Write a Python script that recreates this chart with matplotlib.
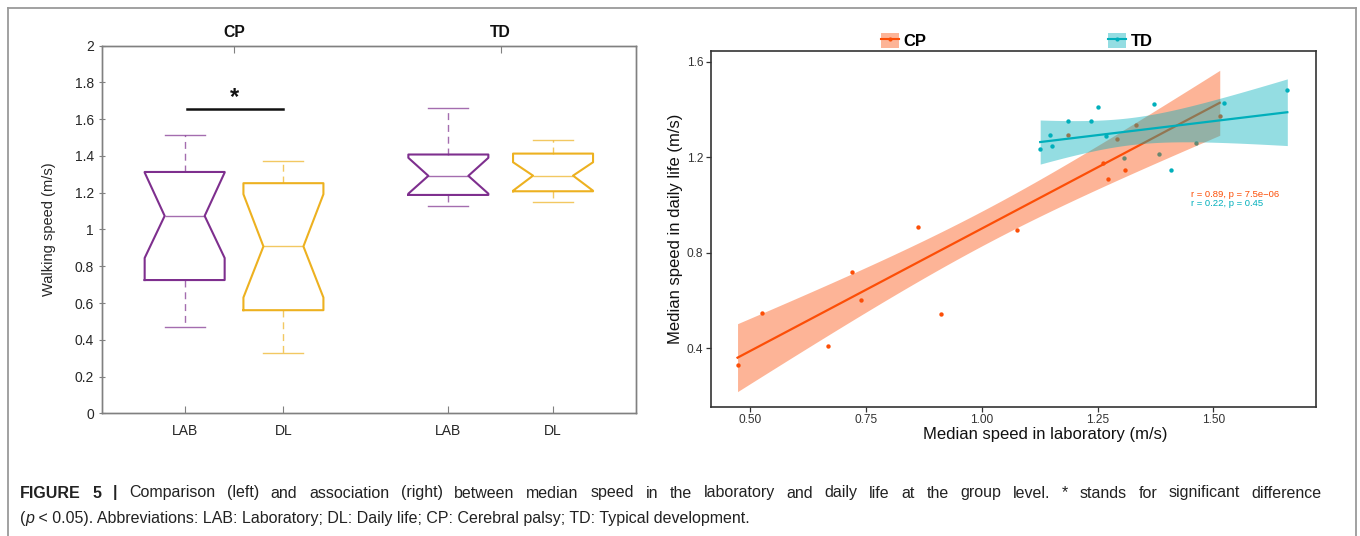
import numpy as np
import matplotlib
matplotlib.use('Agg')
import matplotlib.pyplot as plt
from matplotlib.patches import Patch
from matplotlib.lines import Line2D
from matplotlib.legend_handler import HandlerTuple

plt.rcParams['font.family'] = ['Liberation Sans', 'DejaVu Sans']

# ---------------- Left panel data (box statistics, m/s) ----------------
box_labels = ['LAB', 'DL', 'LAB', 'DL']
group_labels = ['CP', 'TD']
whislo = [0.470, 0.327, 1.126, 1.148]
q1 = [0.725, 0.561, 1.188, 1.208]
cilo = [0.845, 0.630, 1.195, 1.211]
med = [1.074, 0.908, 1.292, 1.293]
cihi = [1.310, 1.192, 1.390, 1.366]
q3 = [1.313, 1.252, 1.408, 1.413]
whishi = [1.515, 1.373, 1.660, 1.486]
sig_level = 1.657
yticks_left = [0, 0.2, 0.4, 0.6, 0.8, 1, 1.2, 1.4, 1.6, 1.8, 2]
ytick_labels_left = ['0', '0.2', '0.4', '0.6', '0.8', '1', '1.2', '1.4', '1.6', '1.8', '2']

# ---------------- Right panel data (median speeds, m/s) ----------------
cp_lab = [0.472, 0.524, 0.668, 0.720, 0.738, 0.863, 0.911, 1.075,
          1.186, 1.262, 1.272, 1.291, 1.309, 1.334, 1.514]
cp_dl = [0.327, 0.548, 0.410, 0.718, 0.602, 0.908, 0.544, 0.893,
         1.292, 1.177, 1.110, 1.275, 1.144, 1.334, 1.372]
td_lab = [1.126, 1.148, 1.152, 1.186, 1.235, 1.250, 1.269, 1.308,
          1.371, 1.382, 1.408, 1.463, 1.523, 1.660]
td_dl = [1.233, 1.292, 1.246, 1.353, 1.351, 1.411, 1.289, 1.196,
         1.423, 1.213, 1.147, 1.259, 1.425, 1.482]
cp_stat = 'r = 0.89, p = 7.5e\u221206'
td_stat = 'r = 0.22, p = 0.45'
t_crit = {13: 2.1604, 12: 2.1788}

PURPLE = '#7E2F8E'
GOLD = '#EDB120'
CP_C = '#FC4E07'
TD_C = '#00AFBB'
TXT = '#262626'

fig = plt.figure(figsize=(13.6, 5.36), dpi=100)
W, H = 1360, 536

# figure frame
for xs, ys in [([8, 8], [536, 7.5]), ([8, 1355.5], [7.5, 7.5]), ([1355.5, 1355.5], [7.5, 536])]:
    fig.add_artist(Line2D([x / W for x in xs], [1 - y / H for y in ys],
                          transform=fig.transFigure, color='#9a9a9a', lw=1.3))

# ---------------- Left panel ----------------
ax = fig.add_axes([101.7 / W, 1 - 413.3 / H, (636 - 101.7) / W, (413.3 - 45.7) / H])
positions = [1.0, 2.0, 3.67, 4.73]
colors = [PURPLE, GOLD, PURPLE, GOLD]
for i in range(4):
    st = dict(whislo=whislo[i], q1=q1[i], med=med[i], q3=q3[i], whishi=whishi[i],
              cilo=cilo[i], cihi=cihi[i], fliers=[])
    c = colors[i]
    ax.bxp([st], positions=[positions[i]], widths=0.81, shownotches=True,
           showfliers=False, manage_ticks=False,
           boxprops=dict(color=c, lw=1.5),
           medianprops=dict(color=c, lw=1.0, alpha=0.7),
           whiskerprops=dict(color=c, lw=1.0, ls=(0, (5, 3.5)), alpha=0.7),
           capprops=dict(color=c, lw=1.0, alpha=0.7))

ax.set_xlim(0.16, 5.57)
ax.set_ylim(0, 2)
ax.set_yticks(yticks_left)
ax.set_yticklabels(ytick_labels_left)
ax.set_xticks(positions)
ax.set_xticklabels(box_labels)
for sp in ax.spines.values():
    sp.set_color('#808080')
    sp.set_linewidth(1.0)
ax.tick_params(axis='y', direction='inout', length=5, width=0.8, color='#808080',
               labelsize=10, labelcolor=TXT, pad=3)
ax.tick_params(axis='x', direction='in', length=5, width=0.8, color='#808080',
               labelsize=10, labelcolor=TXT, pad=8)
ax.set_ylabel('Walking speed (m/s)', fontsize=10.5, color=TXT)
ax.yaxis.set_label_coords(-0.0855, 0.5)

axt = ax.twiny()
axt.set_xlim(ax.get_xlim())
group_pos = [(positions[0] + positions[1]) / 2, (positions[2] + positions[3]) / 2]
axt.set_xticks(group_pos)
axt.set_xticklabels(group_labels, fontweight='bold')
axt.tick_params(axis='x', direction='in', length=5, width=0.8, color='#808080',
                labelsize=11.3, labelcolor='#111111', pad=4)
for sp in axt.spines.values():
    sp.set_color('#808080')
    sp.set_linewidth(1.0)

# significance bar
ax.plot([positions[0] + 0.02, positions[1]], [sig_level, sig_level], color='#111111', lw=1.8)
ax.text((positions[0] + positions[1]) / 2, sig_level, '*', ha='center', va='bottom',
        fontsize=17, fontweight='bold', color='#111111')

# ---------------- Right panel ----------------
ax2 = fig.add_axes([710.7 / W, 1 - 406.7 / H, (1316 - 710.7) / W, (406.7 - 50.7) / H])
ax2.scatter(cp_lab, cp_dl, s=10, color=CP_C, zorder=2, linewidths=0)
ax2.scatter(td_lab, td_dl, s=10, color=TD_C, zorder=2, linewidths=0)

z = 3
for xs, ys, c in [(cp_lab, cp_dl, CP_C), (td_lab, td_dl, TD_C)]:
    x = np.asarray(xs)
    y = np.asarray(ys)
    n = len(x)
    b, a = np.polyfit(x, y, 1)
    xg = np.linspace(x.min(), x.max(), 100)
    yg = a + b * xg
    resid = y - (a + b * x)
    s = np.sqrt(np.sum(resid ** 2) / (n - 2))
    sxx = np.sum((x - x.mean()) ** 2)
    se = s * np.sqrt(1 / n + (xg - x.mean()) ** 2 / sxx)
    tc = t_crit[n - 2]
    ax2.fill_between(xg, yg - tc * se, yg + tc * se, color=c, alpha=0.42, lw=0, zorder=z)
    ax2.plot(xg, yg, color=c, lw=1.6, zorder=z + 0.5)
    z += 1

ax2.text(1.451, 1.043, cp_stat, color=CP_C, fontsize=6.8, ha='left', va='center', zorder=10)
ax2.text(1.451, 1.004, td_stat, color=TD_C, fontsize=6.8, ha='left', va='center', zorder=10)

ax2.set_xlim(0.414, 1.722)
ax2.set_ylim(0.154, 1.646)
ax2.set_xticks([0.5, 0.75, 1.0, 1.25, 1.5])
ax2.set_xticklabels(['0.50', '0.75', '1.00', '1.25', '1.50'])
ax2.set_yticks([0.4, 0.8, 1.2, 1.6])
ax2.set_yticklabels(['0.4', '0.8', '1.2', '1.6'])
for sp in ax2.spines.values():
    sp.set_color('#333333')
    sp.set_linewidth(1.2)
ax2.tick_params(direction='out', length=3.5, width=0.9, color='#333333',
                labelsize=8.6, labelcolor='#333333', pad=2)
ax2.set_xlabel('Median speed in laboratory (m/s)', fontsize=12, color='#111111')
ax2.xaxis.set_label_coords(0.552, -0.058)
ax2.set_ylabel('Median speed in daily life (m/s)', fontsize=12, color='#111111')
ax2.yaxis.set_label_coords(-0.046, 0.5)

handles = [(Patch(facecolor=CP_C, alpha=0.42, edgecolor='none'),
            Line2D([], [], color=CP_C, lw=1.5, marker='o', markersize=2)),
           (Patch(facecolor=TD_C, alpha=0.42, edgecolor='none'),
            Line2D([], [], color=TD_C, lw=1.5, marker='o', markersize=2))]
fig.legend(handles, group_labels, handler_map={tuple: HandlerTuple(ndivide=1, pad=0)},
           loc='center', bbox_to_anchor=(1017 / W, 1 - 40.7 / H), bbox_transform=fig.transFigure,
           ncol=2, frameon=False, columnspacing=10.9, handlelength=1.06, handleheight=1.0,
           handletextpad=0.28, prop=dict(weight='bold', size=12))

# ---------------- Caption ----------------
renderer = fig.canvas.get_renderer()
cap_size = 11.5
cap_color = '#222222'


def measure(s, kw):
    t = fig.text(0, 0, s, fontsize=cap_size, **kw)
    w = t.get_window_extent(renderer=renderer).width
    t.remove()
    return w


def justified_line(x0, x1, y_px, words):
    widths = [measure(w, kw) for w, kw in words]
    gap = (x1 - x0 - sum(widths)) / (len(words) - 1)
    x = x0
    for (w, kw), wd in zip(words, widths):
        fig.text(x / W, 1 - y_px / H, w, fontsize=cap_size, ha='left', va='baseline',
                 color=cap_color, **kw)
        x += wd + gap


def text_runs(x_px, y_px, parts):
    x = x_px
    for s, kw in parts:
        t = fig.text(x / W, 1 - y_px / H, s, fontsize=cap_size, ha='left', va='baseline',
                     color=cap_color, **kw)
        x += t.get_window_extent(renderer=renderer).width


bold = dict(fontweight='bold')
line1 = [('FIGURE', bold), ('5', bold), ('|', bold)] + \
    [(w, {}) for w in ('Comparison (left) and association (right) between median speed in the '
                       'laboratory and daily life at the group level. * stands for significant '
                       'difference').split()]
justified_line(20, 1322, 497.5, line1)
text_runs(20, 523.5, [('(', {}), ('p', dict(style='italic')),
                      (' < 0.05). Abbreviations: LAB: Laboratory; DL: Daily life; CP: Cerebral palsy; '
                       'TD: Typical development.', {})])

fig.savefig('out.png', dpi=100)
